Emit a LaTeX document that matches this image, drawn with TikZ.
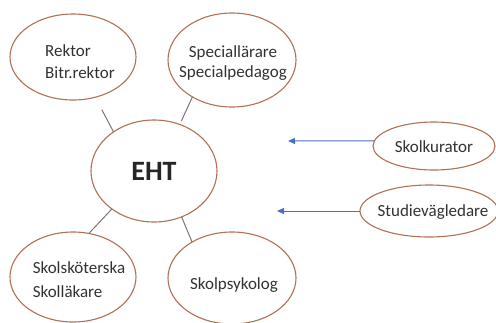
\documentclass[tikz,border=0pt]{standalone}
\usepackage{fontspec}
\setmainfont{Carlito}
\usetikzlibrary{shapes.geometric,arrows.meta}
\definecolor{rim}{RGB}{178,112,84}
\definecolor{txt}{RGB}{50,50,50}
\definecolor{link}{RGB}{120,120,120}
\definecolor{arr}{RGB}{68,114,196}
\tikzset{
  role/.style={ellipse,draw=rim,line width=1.1pt,inner sep=0pt,outer sep=0pt,
    text=txt,font=\fontsize{17}{23}\selectfont},
  link/.style={draw=link,line width=1pt},
  feed/.style={draw=arr,line width=1pt,-{Triangle[width=6pt,length=7pt]}}
}
\begin{document}
\begin{tikzpicture}[x=1pt,y=-1pt]
\useasboundingbox (0,0) rectangle (496,322);
\clip (0,0) rectangle (496,322);
\fill[white] (0,0) rectangle (496,322);
\node[role,minimum width=126pt,minimum height=86pt,align=left] (rektor) at (73,57) {};
\node[text=txt,font=\fontsize{17}{22}\selectfont,align=left] at (80,62) {Rektor\\Bitr.rektor};
\node[role,minimum width=128pt,minimum height=94pt,align=center] (special) at (232,60) {};
\node[text=txt,font=\fontsize{17}{20}\selectfont,align=center] at (233,63) {Speciallärare\\Specialpedagog};
\node[role,minimum width=126pt,minimum height=102pt,font=\fontsize{28}{30}\selectfont\bfseries,text=black!85] (eht) at (154,171) {EHT};
\node[role,minimum width=126pt,minimum height=90pt] (skolsk) at (73,277) {};
\node[text=txt,font=\fontsize{17}{24}\selectfont,align=left] at (79,280) {Skolsköterska\\Skolläkare};
\node[role,minimum width=128pt,minimum height=92pt] (psyk) at (232,278) {};
\node[text=txt,font=\fontsize{17}{20}\selectfont] at (234,285) {Skolpsykolog};
\node[role,minimum width=122pt,minimum height=48pt] (kurator) at (434,146) {};
\node[text=txt,font=\fontsize{17}{20}\selectfont] at (434,147) {Skolkurator};
\node[role,minimum width=138pt,minimum height=52pt] (studie) at (429,211) {};
\node[text=txt,font=\fontsize{17}{20}\selectfont] at (433,212) {Studievägledare};
\draw[link,shorten >=14pt] (eht.136) -- (rektor.-61);
\draw[link,shorten <=4pt] (eht.61) -- (special.223);
\draw[link] (eht.222) -- (skolsk.70);
\draw[link] (eht.-59) -- (psyk.138);
\coordinate (ka) at (288,141);
\coordinate (sa) at (277,211);
\draw[feed] (kurator.175) -- (ka);
\draw[feed] (studie.180) -- (sa);
\end{tikzpicture}
\end{document}
